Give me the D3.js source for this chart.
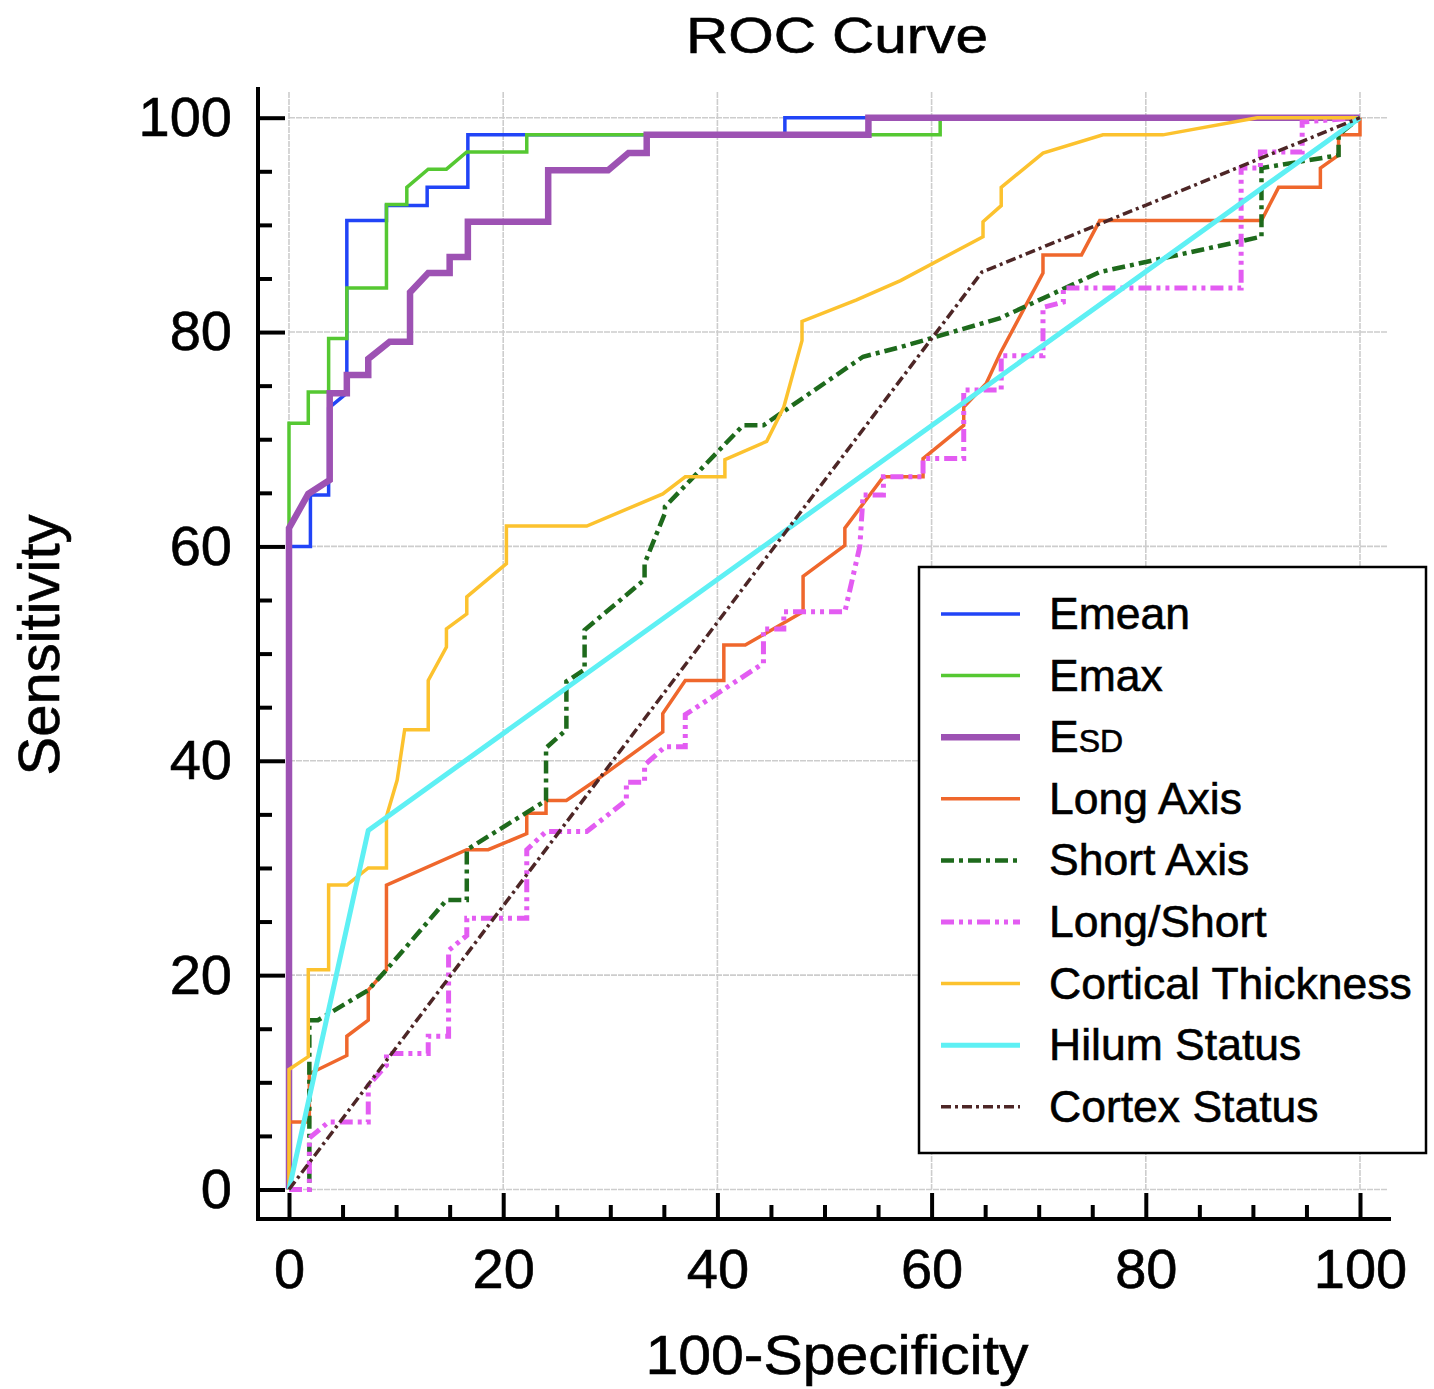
<!DOCTYPE html>
<html lang="en">
<head>
    <meta charset="UTF-8">
    <title>ROC Curve</title>
    <script src="https://d3js.org/d3.v7.min.js"></script>
    <style>
        body { margin: 0; background: #fff; }
        svg text { font-family: "Liberation Sans", Arial, sans-serif; fill: #000; stroke: #000; stroke-width: 0.6px; }
    </style>
</head>
<body>
    <svg id="chart"></svg>

    <script>
        // ROC points, [100-specificity, sensitivity]
        const emean = [[0,0],[0,60],[2,60],[2,64.8],[3.7,64.8],[3.7,72.9],[5.4,74.3],[5.4,90.4],[9.1,90.4],[9.1,91.8],
            [12.9,91.8],[12.9,93.5],[16.7,93.5],[16.7,98.4],[46.3,98.4],[46.3,100],[100,100]];
        const emax = [[0,0],[0,71.5],[1.8,71.5],[1.8,74.4],[3.7,74.4],[3.7,79.4],[5.4,79.4],[5.4,84.1],[9.1,84.1],
            [9.1,91.9],[11,91.9],[11,93.5],[13,95.2],[14.7,95.2],[16.6,96.8],[22.2,96.8],[22.2,98.4],[60.8,98.4],
            [60.8,100],[100,100]];
        const esd = [[0,0],[0,61.7],[1.8,64.9],[3.8,66.2],[3.8,74.3],[5.4,74.3],[5.4,76],[7.4,76],[7.4,77.5],[9.4,79.1],
            [11.3,79.1],[11.3,83.7],[13,85.5],[15,85.5],[15,87],[16.7,87],[16.7,90.3],[24.2,90.3],[24.2,95.1],
            [29.8,95.1],[31.7,96.7],[33.4,96.7],[33.4,98.4],[54.1,98.4],[54.1,100],[100,100]];
        const longAxis = [[0,0],[0,6.3],[1.9,6.3],[1.9,10.8],[5.4,12.5],[5.4,14.3],[7.4,15.8],[7.4,18.6],[9.1,20.5],
            [9.1,28.4],[16.6,31.7],[18.6,31.7],[22.2,33.2],[22.2,35.1],[24,35.1],[24,36.3],[25.9,36.3],[28.7,38.2],
            [34.9,42.7],[34.9,44.4],[37,47.5],[40.6,47.5],[40.6,50.8],[42.6,50.8],[48,53.9],[48,57.2],[51.9,60.1],
            [51.9,61.7],[55.5,66.5],[59.2,66.5],[59.2,68.2],[63,71.3],[63,73],[65.1,75.2],[66.4,78],[70.4,85.5],
            [70.4,87.2],[74,87.2],[75.7,90.4],[90.8,90.4],[92.4,93.5],[96.3,93.5],[96.3,95.3],[98,96.5],[98,98.4],
            [100,98.4],[100,100]];
        const shortAxis = [[0,0],[1.9,0],[1.9,15.8],[2.7,15.8],[7.4,18.6],[9.1,20.5],[14.7,27],[16.6,27],[16.6,31.7],
            [24,36.3],[24,41.2],[25.9,42.9],[25.9,47.4],[27.6,48.5],[27.6,52.2],[33.2,56.9],[33.2,58.4],[35.1,63.1],
            [35.1,63.7],[42.4,71.3],[44.3,71.3],[53.6,77.7],[57.1,78.6],[66.4,81.3],[75.7,85.6],[90.8,88.9],
            [90.8,95.3],[98,96.5],[98,98.4],[100,100]];
        const longShort = [[0,0],[1.9,0],[1.9,4.8],[3.7,6.3],[7.4,6.3],[7.4,9.7],[9.1,11.6],[9.1,12.7],[13,12.7],
            [13,14.3],[14.9,14.3],[14.9,22.3],[16.6,23.7],[16.6,25.3],[22.2,25.3],[22.2,31.7],[24,33.4],[27.8,33.4],
            [31.5,36.3],[31.5,38],[33.2,38],[33.2,39.6],[35.1,41.3],[37,41.3],[37,44.3],[44.3,49.1],[44.3,52.3],
            [46.2,52.3],[46.2,53.9],[51.9,53.9],[53.3,60],[53.6,64.8],[55.5,64.8],[55.5,66.5],[59.2,66.5],[59.2,68.2],
            [63,68.2],[63,74.6],[66.5,74.6],[66.5,77.8],[70.4,77.8],[70.4,82.3],[72.3,82.8],[72.3,84.1],[88.9,84.1],
            [88.9,95.3],[90.7,95.3],[90.7,96.8],[94.6,96.8],[94.6,99.6],[100,100]];
        const cortical = [[0,0],[0,11.2],[1.8,12.4],[1.8,20.5],[3.7,20.5],[3.7,28.4],[5.4,28.4],[7.4,30],[9.1,30],
            [9.1,34.8],[10.1,38.2],[10.8,42.9],[13,42.9],[13,47.5],[14.7,50.6],[14.7,52.3],[16.6,53.7],[16.6,55.3],
            [20.3,58.4],[20.3,61.9],[27.8,61.9],[34.9,64.9],[37,66.5],[40.7,66.5],[40.7,68.1],[44.6,69.8],[46.2,73],
            [47.9,79.2],[47.9,81],[53,83],[57.1,84.8],[64.8,88.9],[64.8,90.3],[66.5,91.8],[66.5,93.5],[70.4,96.7],
            [76,98.4],[81.6,98.4],[90.4,100],[100,100]];
        const hilum = [[0,0],[7.4,33.5],[100,100]];
        const cortex = [[0,0],[64.7,85.6],[100,100]];

        const seriesNames = ["Emean", "Emax", "ESD", "Long Axis", "Short Axis", "Long/Short",
            "Cortical Thickness", "Hilum Status", "Cortex Status"];
        const seriesData = [emean, emax, esd, longAxis, shortAxis, longShort, cortical, hilum, cortex];
        const seriesColors = ["#2144f7", "#55c832", "#9d52b3", "#ef672c", "#1e6a1c", "#e35cf2",
            "#fcc22e", "#5ef0f4", "#4d2626"];
        const seriesWidths = [3.5, 3.5, 6.5, 3.5, 4.5, 5, 3.5, 5, 3.5];
        const seriesDash = [null, null, null, null, "13,5,4,5", "13,5,4,5,4,5", null, null, "10,4,3,4"];

        const xTicks = [0, 20, 40, 60, 80, 100];
        const yTicks = [0, 20, 40, 60, 80, 100];
        const minorTicks = d3.range(0, 101, 5).filter(v => v % 20 !== 0);

        const width = 1434, height = 1389;
        const svg = d3.select("#chart").attr("width", width).attr("height", height);

        const x = d3.scaleLinear().domain([0, 100]).range([289, 1360]);
        const y = d3.scaleLinear().domain([0, 100]).range([1189.5, 117.7]);
        const spineX = 258, spineY = 1219;

        // title
        svg.append("text")
            .attr("x", 837).attr("y", 53)
            .attr("text-anchor", "middle")
            .attr("font-size", 50)
            .attr("textLength", 302).attr("lengthAdjust", "spacingAndGlyphs")
            .text("ROC Curve");

        // grid
        const grid = svg.append("g").attr("stroke", "#cdcdcd").attr("stroke-width", 1.6)
            .attr("stroke-dasharray", "6,1");
        grid.selectAll(".gx").data(xTicks).enter().append("line")
            .attr("x1", d => x(d)).attr("x2", d => x(d))
            .attr("y1", 92).attr("y2", y(0));
        grid.selectAll(".gy").data(yTicks).enter().append("line")
            .attr("x1", x(0)).attr("x2", 1387)
            .attr("y1", d => y(d)).attr("y2", d => y(d));

        // axes: ticks point inward, spines drawn separately
        function styleAxis(g) {
            g.select(".domain").remove();
            g.selectAll(".tick line").attr("stroke", "#000").attr("stroke-width", 4);
            g.selectAll(".tick text").attr("font-size", 56)
                .style("font-family", '"Liberation Sans", Arial, sans-serif');
        }

        svg.append("g").attr("transform", `translate(0,${spineY})`)
            .call(d3.axisBottom(x).tickValues(xTicks).tickSize(-26).tickPadding(29).tickFormat(d3.format("d")))
            .call(styleAxis);
        svg.append("g").attr("transform", `translate(0,${spineY})`)
            .call(d3.axisBottom(x).tickValues(minorTicks).tickSize(-14).tickFormat(""))
            .call(styleAxis);
        svg.append("g").attr("transform", `translate(${spineX},0)`)
            .call(d3.axisLeft(y).tickValues(yTicks).tickSize(-27).tickPadding(26).tickFormat(d3.format("d")))
            .call(styleAxis);
        svg.append("g").attr("transform", `translate(${spineX},0)`)
            .call(d3.axisLeft(y).tickValues(minorTicks).tickSize(-14).tickFormat(""))
            .call(styleAxis);

        svg.append("line").attr("x1", spineX).attr("x2", spineX).attr("y1", 87).attr("y2", spineY + 2)
            .attr("stroke", "#000").attr("stroke-width", 4);
        svg.append("line").attr("x1", spineX - 2).attr("x2", 1391).attr("y1", spineY).attr("y2", spineY)
            .attr("stroke", "#000").attr("stroke-width", 4);

        // axis titles
        svg.append("text")
            .attr("x", 837).attr("y", 1374)
            .attr("text-anchor", "middle")
            .attr("font-size", 55)
            .attr("textLength", 383).attr("lengthAdjust", "spacingAndGlyphs")
            .text("100-Specificity");
        svg.append("text")
            .attr("transform", "translate(59,645) rotate(-90)")
            .attr("text-anchor", "middle")
            .attr("font-size", 58)
            .text("Sensitivity");

        // curves
        const line = d3.line().x(d => x(d[0])).y(d => y(d[1]));
        svg.append("g").selectAll("path")
            .data(seriesData)
            .enter().append("path")
            .attr("d", line)
            .attr("fill", "none")
            .attr("stroke", (d, i) => seriesColors[i])
            .attr("stroke-width", (d, i) => seriesWidths[i])
            .attr("stroke-dasharray", (d, i) => seriesDash[i]);

        // legend
        const legend = svg.append("g");
        legend.append("rect")
            .attr("x", 919).attr("y", 567).attr("width", 507).attr("height", 586)
            .attr("fill", "#fff").attr("stroke", "#000").attr("stroke-width", 2.5);

        const rowY = i => 614 + i * 61.6;
        const items = legend.selectAll(".item").data(seriesNames).enter().append("g");
        items.append("line")
            .attr("x1", 941).attr("x2", 1020)
            .attr("y1", (d, i) => rowY(i)).attr("y2", (d, i) => rowY(i))
            .attr("stroke", (d, i) => seriesColors[i])
            .attr("stroke-width", (d, i) => seriesWidths[i])
            .attr("stroke-dasharray", (d, i) => seriesDash[i]);
        items.append("text")
            .attr("x", 1049)
            .attr("y", (d, i) => rowY(i) + 15)
            .attr("font-size", 44.5)
            .each(function(d) {
                const t = d3.select(this);
                if (d === "ESD") {
                    t.append("tspan").text("E");
                    t.append("tspan").attr("font-size", 32).text("SD");
                } else {
                    t.text(d);
                }
            });
    </script>
</body>
</html>
